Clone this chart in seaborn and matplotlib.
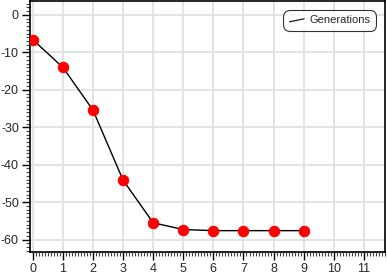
import matplotlib
matplotlib.use("Agg")
import matplotlib.pyplot as plt
from matplotlib.ticker import MultipleLocator
from matplotlib.lines import Line2D
from matplotlib.legend_handler import HandlerBase
import seaborn as sns
import pandas as pd

generations = [0, 1, 2, 3, 4, 5, 6, 7, 8, 9]
values = [-6.6, -14.0, -25.4, -44.1, -55.5, -57.3, -57.6, -57.6, -57.6, -57.6]
series_name = "Generations"

sns.set_style("white")
plt.rcParams['font.family'] = ['Liberation Sans', 'DejaVu Sans']
plt.rcParams['axes.unicode_minus'] = False

df = pd.DataFrame({"x": generations, "y": values})

fig = plt.figure(figsize=(3.87, 2.77), dpi=100)
ax = fig.add_axes([30/387, 25/277, 355/387, 251/277])

sns.lineplot(data=df, x="x", y="y", ax=ax, color="black", linewidth=1.0,
             marker="o", markersize=7.5, markerfacecolor="red",
             markeredgecolor="red", zorder=3)

ax.set_xlim(-0.09, 11.7)
ax.set_ylim(-63.3, 3.7)
ax.xaxis.set_major_locator(MultipleLocator(1))
ax.xaxis.set_minor_locator(MultipleLocator(0.1))
ax.yaxis.set_major_locator(MultipleLocator(10))
ax.yaxis.set_minor_locator(MultipleLocator(1))
ax.set_xlabel("")
ax.set_ylabel("")

ax.grid(True, which="major", color="#e0e0e0", linewidth=1.3, zorder=0)
ax.set_axisbelow(True)

for s in ax.spines.values():
    s.set_color("black")
    s.set_linewidth(1.2)

ax.tick_params(axis="both", which="major", direction="out", length=6, width=1,
               color="black", labelsize=9, pad=2, left=True, bottom=True)
ax.tick_params(axis="both", which="minor", direction="out", length=3, width=0.8,
               color="#444444", left=True, bottom=True)


class SlantedLineHandler(HandlerBase):
    def create_artists(self, legend, orig_handle, xdescent, ydescent,
                       width, height, fontsize, trans):
        line = Line2D([xdescent + 0.05 * width, xdescent + width],
                      [ydescent + 0.2 * height, ydescent + 0.6 * height],
                      color="black", linewidth=0.8, transform=trans)
        return [line]


handle = Line2D([0], [0], color="black", linewidth=0.8)
leg = ax.legend([handle], [series_name], loc="upper right", fontsize=8,
                frameon=True, fancybox=True, edgecolor="black",
                handlelength=1.4, handletextpad=0.5, borderpad=0.5,
                borderaxespad=0.3,
                handler_map={Line2D: SlantedLineHandler()},
                bbox_to_anchor=(0.985, 0.978))
leg.get_frame().set_linewidth(0.8)
leg.get_frame().set_boxstyle("round,pad=0,rounding_size=0.6")

fig.savefig("out.png", dpi=100)
